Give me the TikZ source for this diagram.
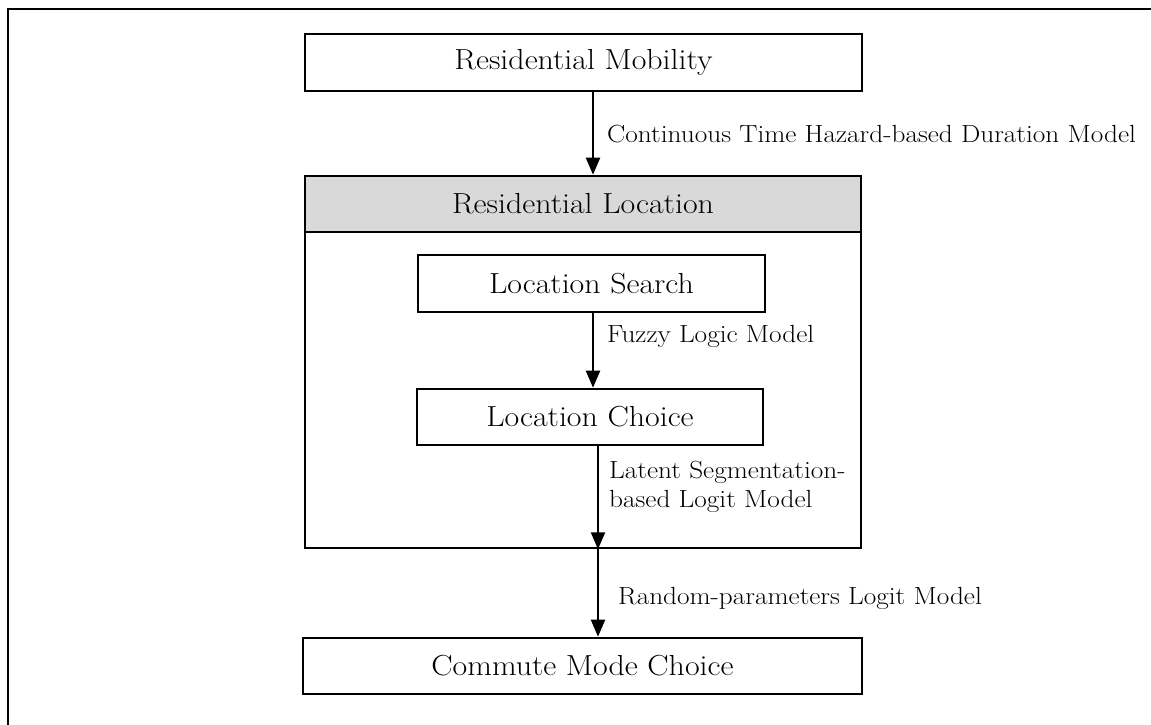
\documentclass[tikz,border=0pt]{standalone}
\usepackage{fontspec}
\setmainfont{Latin Modern Roman}[FakeStretch=1.1]
\usetikzlibrary{arrows.meta}
\definecolor{hdrgray}{HTML}{D9D9D9}
\begin{document}
\begin{tikzpicture}[x=1pt,y=-1pt,
  boxtext/.style={font=\fontsize{29}{34}\selectfont},
  labtext/.style={font=\fontsize{24.8}{28.5}\selectfont, inner sep=0pt, anchor=west, align=left},
  stagebox/.style={draw, line width=2.6pt, rectangle, inner sep=0pt, boxtext},
  frameline/.style={line width=2.6pt},
  arr/.style={line width=2.2pt, -{Triangle[length=17pt,width=14pt]}}
]
\useasboundingbox (0,0) rectangle (1151,725);
% outer frame
\draw[frameline] (8,730) -- (8,9) -- (1160,9);

% stages
\node[stagebox, minimum width=557pt, minimum height=57pt] (mob) at (583.5,62.5) {Residential Mobility};
\node[draw, line width=2.6pt, rectangle, inner sep=0pt, minimum width=556pt, minimum height=372pt] (loc) at (583,362) {};
\node[stagebox, fill=hdrgray, minimum width=556pt, minimum height=56pt] (hdr) at (583,204) {Residential Location};
\node[stagebox, minimum width=347pt, minimum height=57pt] (search) at (591.5,283.5) {Location Search};
\node[stagebox, minimum width=346pt, minimum height=56pt] (choice) at (590,417) {Location Choice};
\node[stagebox, minimum width=559pt, minimum height=56pt] (commute) at (582.5,666) {Commute Mode Choice};

% connector columns
\coordinate (xa) at (593,0);
\coordinate (xb) at (598,0);

\draw[arr] (mob.south -| xa) -- (hdr.north -| xa);
\draw[arr] (search.south -| xa) -- (choice.north -| xa);
\draw[arr] (choice.south -| xb) -- (loc.south -| xb);
\draw[arr] (loc.south -| xb) -- (commute.north -| xb);

% model labels
\node[labtext] (l1) at (607,134) {Continuous Time Hazard-based Duration Model};
\node[labtext] (l2) at (607,336) {Fuzzy Logic Model};
\node[labtext] (l3) at (609,487) {Latent Segmentation-\\based Logit Model};
\node[labtext] (l4) at (618,598) {Random-parameters Logit Model};
\end{tikzpicture}
\end{document}
